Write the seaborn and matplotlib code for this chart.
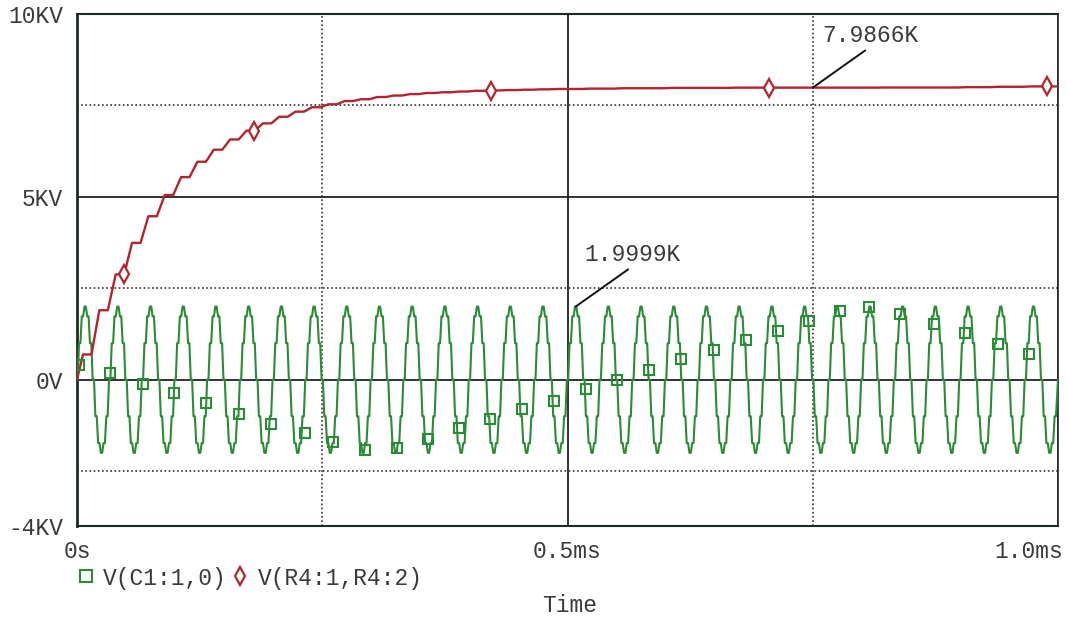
import numpy as np
import pandas as pd
import matplotlib
matplotlib.use("Agg")
import matplotlib.pyplot as plt
import matplotlib.transforms as mtransforms
from matplotlib.lines import Line2D
import seaborn as sns

# ---- axis setup ----
x_ticks_ms = [0.0, 0.5, 1.0]
x_tick_labels = ["0s", "0.5ms", "1.0ms"]
y_ticks_kv = [10, 5, 0, -4]
y_tick_labels = ["10KV", "5KV", "0V", "-4KV"]
x_minor_ms = [0.25, 0.75]
y_minor_kv = [7.5, 2.5, -2.5]

# ---- V(C1:1,0): one 30 kHz cycle, 12 samples, in kV ----
green_cycle_kv = [0.0, 1.0, 1.732, 1.9999, 1.732, 1.0,
                  0.0, -1.0, -1.732, -1.9999, -1.732, -1.0]
green_cycles = 30

# ---- V(R4:1,R4:2): charging staircase, one level per half cycle, in kV ----
red_step_kv = [0.69, 1.90, 2.88, 3.74, 4.47, 5.05, 5.54, 5.96, 6.29, 6.57,
               6.81, 7.01, 7.19, 7.33, 7.45, 7.53, 7.62, 7.67, 7.73, 7.77,
               7.81, 7.84, 7.86, 7.88, 7.90, 7.91, 7.92, 7.93, 7.94, 7.95,
               7.95, 7.96, 7.96, 7.97, 7.97, 7.97, 7.98, 7.98, 7.98, 7.98,
               7.9866, 7.9866, 7.9866, 7.9866, 7.9866, 7.9866, 7.9866, 7.9866, 7.9866, 7.99,
               7.99, 7.99, 7.99, 7.99, 8.00, 8.00, 8.01, 8.01, 8.02, 8.02]
red_first_step_ms = 0.0061
red_rise_ms = 0.008

# ---- trace markers ----
square_t_ms = [0.002, 0.034, 0.067, 0.099, 0.132, 0.165, 0.198, 0.232, 0.261, 0.294,
               0.326, 0.358, 0.389, 0.421, 0.454, 0.486, 0.519, 0.550, 0.583, 0.616,
               0.649, 0.682, 0.715, 0.746, 0.778, 0.807, 0.839, 0.874, 0.905, 0.939, 0.970]
square_kv = [0.41, 0.17, -0.13, -0.36, -0.63, -0.93, -1.20, -1.46, -1.69, -1.93,
             -1.87, -1.62, -1.33, -1.07, -0.81, -0.58, -0.25, -0.01, 0.27, 0.56,
             0.81, 1.08, 1.34, 1.61, 1.88, 1.99, 1.79, 1.52, 1.27, 0.98, 0.70]
diamond_t_ms = [0.0484, 0.180, 0.4217, 0.7057, 0.989]
diamond_kv = [2.90, 6.81, 7.90, 7.9866, 8.02]

legend_labels = ["V(C1:1,0)", "V(R4:1,R4:2)"]
x_label = "Time"

# ---- build polylines ----
n_g = len(green_cycle_kv) * green_cycles
dt_g = 1.0 / n_g
flat = 0.25 * dt_g
gt, gv = [], []
for i in range(n_g):
    v = green_cycle_kv[i % len(green_cycle_kv)]
    t = i * dt_g
    gt += [max(t - flat, 0.0), t + flat]
    gv += [v, v]
gt.append(1.0)
gv.append(green_cycle_kv[0])
green_df = pd.DataFrame({"t": gt, "v": gv})

half = 1.0 / (2 * green_cycles)
rt, rv = [0.0], [0.0]
prev = 0.0
for k, lvl in enumerate(red_step_kv):
    t_end = red_first_step_ms + k * half
    if k > 0:
        rt.append(t_end - red_rise_ms)
        rv.append(prev)
    rt.append(t_end)
    rv.append(lvl)
    prev = lvl
rt.append(1.0)
rv.append(prev)
red_df = pd.DataFrame({"t": rt, "v": rv})

# ---- style ----
sns.set_theme(style="white")
plt.rcParams["font.family"] = ["Liberation Mono", "DejaVu Sans Mono"]
text_col = "#3a3a3a"
frame_col = "#1e2a2a"
green = "#2a8c34"
red = "#b3242c"
fs = 16.5

fig = plt.figure(figsize=(10.67, 6.22), dpi=100)
ax = fig.add_axes([77 / 1067, 1 - 526 / 622, (1058 - 77) / 1067, (526 - 14) / 622])

sns.lineplot(data=green_df, x="t", y="v", sort=False, estimator=None,
             color=green, lw=1.5, ax=ax, zorder=3)
sns.lineplot(data=red_df, x="t", y="v", sort=False, estimator=None,
             color=red, lw=1.7, ax=ax, zorder=4)

ax.plot(square_t_ms, square_kv, ls="none", marker="s", ms=7.5, mfc="none",
        mec=green, mew=1.5, zorder=5)
ax.plot(diamond_t_ms, diamond_kv, ls="none", marker="d", ms=9, mfc="white",
        mec=red, mew=1.6, zorder=5)

ax.set_xlim(0, 1.0)
ax.set_ylim(-4, 10)
ax.set_xticks(x_ticks_ms)
ax.set_xticklabels(x_tick_labels)
ax.set_yticks(y_ticks_kv)
ax.set_yticklabels(y_tick_labels)
ax.set_xticks(x_minor_ms, minor=True)
ax.set_yticks(y_minor_kv, minor=True)
ax.set_xlabel("")
ax.set_ylabel("")

ax.tick_params(which="major", direction="out", length=7, width=1.3,
               color=frame_col, labelsize=fs, labelcolor=text_col, pad=3)
ax.tick_params(axis="y", which="major", length=9, pad=1)
ax.tick_params(which="minor", direction="in", length=5, width=1.0, color=frame_col)
ax.tick_params(axis="y", which="minor", length=0)
ax.tick_params(axis="x", which="minor", top=False)

ax.grid(which="major", color="#222222", lw=1.3, ls="-", zorder=1)
ax.grid(which="minor", color="#333333", lw=1.2, ls=(0, (1, 1.5)), zorder=1)
ax.set_axisbelow(True)

for side, w in [("left", 2.0), ("top", 1.5), ("bottom", 1.5), ("right", 1.2)]:
    ax.spines[side].set_visible(True)
    ax.spines[side].set_color(frame_col)
    ax.spines[side].set_linewidth(w)

# last x label sits inside the figure edge
lbls = ax.get_xticklabels()
lbls[-1].set_horizontalalignment("right")
lbls[-1].set_transform(lbls[-1].get_transform() +
                       mtransforms.ScaledTranslation(4 / 72, 0, fig.dpi_scale_trans))

# probe readouts
peak_idx = 3 + 12 * 15
peak_t = peak_idx * dt_g
peak_v = green_cycle_kv[peak_idx % len(green_cycle_kv)]
red_k = 44
red_t = 0.75
red_v = red_step_kv[red_k]
for (t, v, s) in [(peak_t, peak_v, f"{peak_v:.4f}K"), (red_t, red_v, f"{red_v:.4f}K")]:
    ax.annotate(s, xy=(t, v), xytext=(9 * 0.72, 52 * 0.72), textcoords="offset points",
                ha="left", va="center", fontsize=fs, color=text_col,
                arrowprops=dict(arrowstyle="-", color="#111111", lw=1.4,
                                shrinkA=0, shrinkB=0, relpos=(0.5, 0.0)),
                zorder=6)

handles = [Line2D([], [], ls="none", marker="s", ms=8, mfc="none", mec=green, mew=1.5),
           Line2D([], [], ls="none", marker="d", ms=9, mfc="white", mec=red, mew=1.6)]
fig.legend(handles, legend_labels, ncol=2, loc="center left",
           bbox_to_anchor=(80 / 1067, 1 - 578 / 622), frameon=False,
           fontsize=fs, handlelength=0.5, handletextpad=0.5, columnspacing=0.35,
           borderpad=0, borderaxespad=0, labelcolor=text_col)

fig.text(570 / 1067, 1 - 606 / 622, x_label, ha="center", va="center",
         fontsize=fs, color=text_col)

fig.savefig("out.png", dpi=100, facecolor="white")
